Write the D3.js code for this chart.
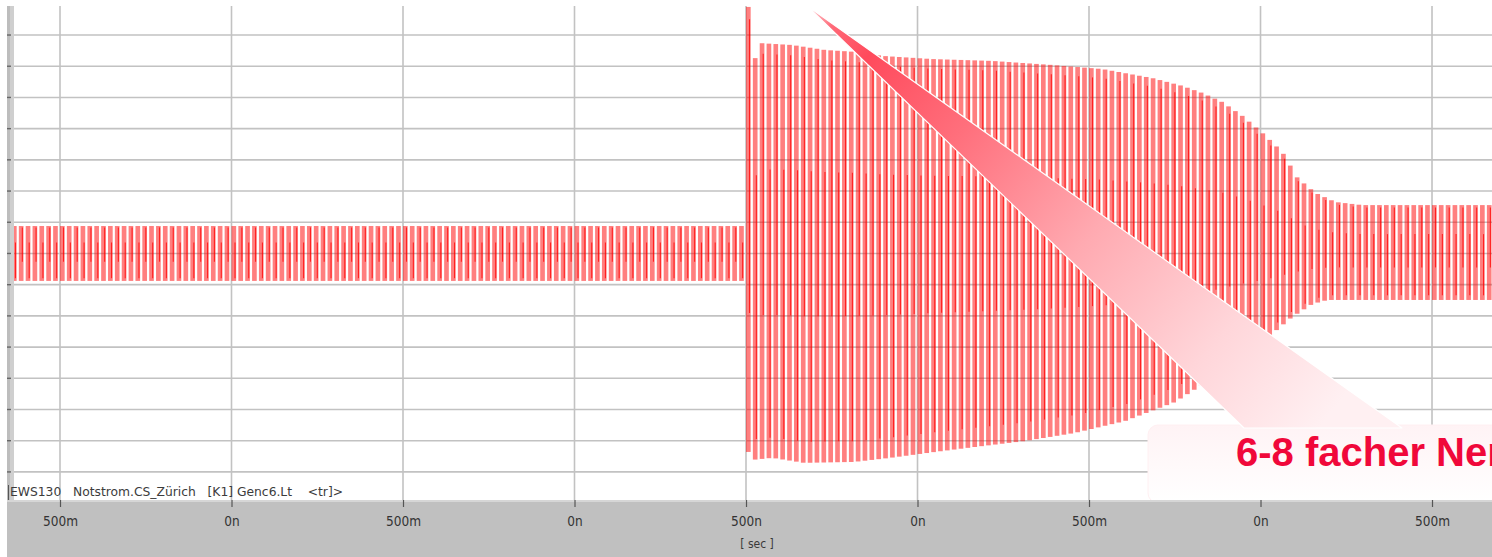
<!DOCTYPE html>
<html>
<head>
<meta charset="utf-8">
<script src="https://cdn.jsdelivr.net/npm/d3@7"></script>
<style>
  body { margin: 0; background: #fff; overflow: hidden; }
  svg { display: block; }
  .tick text { font-family: "DejaVu Sans Condensed", "Liberation Sans Narrow", "Liberation Sans", sans-serif; }
</style>
</head>
<body>
<svg id="chart"></svg>
<script>
const envTime  = [0.36, 2.499, 2.50, 2.515, 2.535, 2.628, 2.724, 2.812, 2.891, 3.036, 3.211, 3.386, 3.532, 3.678, 3.765, 3.824, 3.882, 3.940, 3.999, 4.057, 4.101, 4.153, 4.211, 4.290, 4.68];
const envUpper = [0.88, 0.88, 7.90, 6.10, 6.74, 6.68, 6.52, 6.46, 6.33, 6.23, 6.17, 6.04, 5.91, 5.62, 5.37, 5.14, 4.85, 4.41, 3.86, 3.25, 2.42, 1.94, 1.65, 1.55, 1.55];
const envLowTime = [0.36, 2.499, 2.50, 2.515, 2.57, 2.663, 2.808, 2.913, 3.044, 3.161, 3.306, 3.452, 3.598, 3.744, 3.831, 3.918, 4.006, 4.086, 4.144, 4.188, 4.246, 4.68];
const envLower = [-0.88, -0.88, -6.36, -6.61, -6.55, -6.71, -6.68, -6.55, -6.36, -6.20, -6.01, -5.75, -5.37, -4.76, -4.15, -3.35, -2.77, -2.03, -1.62, -1.49, -1.49, -1.49];
const faultTime = 2.5;     // s, switching instant
const mainsFreq = 50;      // Hz

const tickTimes  = [0.5, 1.0, 1.5, 2.0, 2.5, 3.0, 3.5, 4.0, 4.5];
const tickLabels = ["500m", "0n", "500m", "0n", "500n", "0n", "500m", "0n", "500m"];
const gridRows   = [-7, -6, -5, -4, -3, -2, -1, 0, 1, 2, 3, 4, 5, 6, 7];

const channelLabel = "EWS130   Notstrom.CS_Zürich   [K1] Genc6.Lt    <tr]>";
const axisUnit = "[ sec ]";
const calloutText = "6-8 facher Nennstrom";

const W = 1492, H = 557;
const plot = { left: 8, right: 1492, top: 6, bottom: 500 };

const svg = d3.select('#chart').attr('width', W).attr('height', H);

const x = d3.scaleLinear().domain([0.3484, 4.6749]).range([plot.left, plot.right]);
const y = d3.scaleLinear().domain([-7.9, 7.93]).range([plot.bottom, plot.top]);

const upperAt = d3.scaleLinear().domain(envTime).range(envUpper).clamp(true);
const lowerAt = d3.scaleLinear().domain(envLowTime).range(envLower).clamp(true);

// grid
const grid = svg.append('g');
grid.selectAll('.hgrid')
    .data(gridRows)
    .enter().append('line')
    .attr('x1', 14).attr('x2', plot.right)
    .attr('y1', d => y(d)).attr('y2', d => y(d))
    .attr('stroke', '#c2c2c2').attr('stroke-width', 1.6);
grid.selectAll('.vgrid')
    .data(tickTimes)
    .enter().append('line')
    .attr('x1', d => x(d)).attr('x2', d => x(d))
    .attr('y1', plot.top).attr('y2', plot.bottom)
    .attr('stroke', '#c2c2c2').attr('stroke-width', 1.6);

// waveform: min/max bar for every mains cycle
const period = 1 / mainsFreq;
const cycles = [];
for (let t = faultTime; t > x.domain()[0] + period * 0.3; t -= period) cycles.unshift(t);
for (let t = faultTime + period; t < x.domain()[1]; t += period) cycles.push(t);

const barW = (x(period) - x(0)) * 0.68;
const wave = svg.append('g');
wave.selectAll('rect')
    .data(cycles)
    .enter().append('rect')
    .attr('x', d => x(d))
    .attr('width', barW)
    .attr('y', d => y(upperAt(d)))
    .attr('height', d => y(lowerAt(d)) - y(upperAt(d)))
    .attr('fill', '#ff0000')
    .attr('fill-opacity', 0.5);
// darker trace inside each cycle (alternating upper / lower half, as in the recorder print)
wave.selectAll('line')
    .data(cycles)
    .enter().append('line')
    .attr('x1', d => x(d) + barW * 0.75).attr('x2', d => x(d) + barW * 0.75)
    .attr('y1', (d, i) => y(upperAt(d) * (i % 2 ? 0.95 : 0.4)))
    .attr('y2', (d, i) => y(lowerAt(d) * (i % 2 ? 0.3 : 0.9)))
    .attr('stroke', '#ff0000')
    .attr('stroke-opacity', 0.75)
    .attr('stroke-width', 1.1);

// left scale strip
svg.append('rect')
    .attr('x', 7).attr('y', plot.top).attr('width', 7).attr('height', plot.bottom - plot.top)
    .attr('fill', '#cfcfcf');
svg.append('rect')
    .attr('x', 7).attr('y', plot.top).attr('width', 3).attr('height', plot.bottom - plot.top)
    .attr('fill', '#bdbdbd');
svg.selectAll('.ltick')
    .data(gridRows)
    .enter().append('line')
    .attr('x1', 7).attr('x2', 11)
    .attr('y1', d => y(d)).attr('y2', d => y(d))
    .attr('stroke', '#666').attr('stroke-width', 1.4);

// callout wedge + box
const defs = svg.append('defs');
const wg = defs.append('linearGradient')
    .attr('id', 'wedgeGrad')
    .attr('gradientUnits', 'userSpaceOnUse')
    .attr('x1', 806).attr('y1', 5).attr('x2', 1320).attr('y2', 426);
[[0, '#ffe0e3'], [0.05, '#ff6a78'], [0.12, '#ff4a5c'], [0.3, '#ff6f7c'], [0.55, '#ffaab1'], [0.8, '#ffd6da'], [1, '#fff0f2']]
    .forEach(s => wg.append('stop').attr('offset', s[0]).attr('stop-color', s[1]));

const bg = defs.append('linearGradient')
    .attr('id', 'boxGrad').attr('x1', 0).attr('y1', 0).attr('x2', 0).attr('y2', 1);
[[0, '#fff3f5'], [1, '#ffffff']]
    .forEach(s => bg.append('stop').attr('offset', s[0]).attr('stop-color', s[1]));

svg.append('rect')
    .attr('x', 1148).attr('y', 425).attr('width', 360).attr('height', 78).attr('rx', 10)
    .attr('fill', 'url(#boxGrad)')
    .attr('stroke', '#fff0f2').attr('stroke-width', 1);
svg.append('path')
    .attr('d', 'M806,5 L1402,428 L1244,428 Z')
    .attr('fill', 'url(#wedgeGrad)')
    .attr('stroke', '#ffffff').attr('stroke-width', 1.2).attr('stroke-linejoin', 'round');

svg.append('text')
    .attr('x', 1236).attr('y', 466)
    .attr('font-family', '"Liberation Sans", Arial, sans-serif')
    .attr('font-weight', 'bold')
    .attr('font-size', 40)
    .attr('fill', '#f0083a')
    .text(calloutText);

// time axis band
svg.append('rect')
    .attr('x', 7).attr('y', plot.bottom).attr('width', W - 7).attr('height', H - plot.bottom)
    .attr('fill', '#c0c0c0');
svg.append('line')
    .attr('x1', 7).attr('x2', W).attr('y1', plot.bottom + 1).attr('y2', plot.bottom + 1)
    .attr('stroke', '#d6d6d6').attr('stroke-width', 2);

// channel label
svg.append('text')
    .attr('x', 10).attr('y', 496)
    .attr('font-family', '"DejaVu Sans Condensed", "Liberation Sans Narrow", "Liberation Sans", sans-serif')
    .attr('font-size', 12)
    .attr('fill', '#3c3c3c')
    .attr('textLength', 333)
    .attr('lengthAdjust', 'spacingAndGlyphs')
    .style('white-space', 'pre')
    .text(channelLabel);
svg.append('line')
    .attr('x1', 8.5).attr('x2', 8.5).attr('y1', 485).attr('y2', 500)
    .attr('stroke', '#555').attr('stroke-width', 1);

const xAxis = d3.axisBottom(x)
    .tickValues(tickTimes)
    .tickFormat((d, i) => tickLabels[i])
    .tickSize(7)
    .tickPadding(9);
const ax = svg.append('g')
    .attr('transform', `translate(0,${plot.bottom})`)
    .call(xAxis);
ax.select('.domain').remove();
ax.selectAll('.tick line').attr('stroke', '#555').attr('stroke-width', 1.2);
ax.selectAll('.tick text').attr('fill', '#333').attr('font-size', 13.5);

svg.append('text')
    .attr('x', 757).attr('y', 548)
    .attr('text-anchor', 'middle')
    .attr('font-family', '"DejaVu Sans Condensed", "Liberation Sans Narrow", "Liberation Sans", sans-serif')
    .attr('font-size', 12)
    .attr('fill', '#3a3a3a')
    .style('white-space', 'pre')
    .text(axisUnit);
</script>
</body>
</html>
